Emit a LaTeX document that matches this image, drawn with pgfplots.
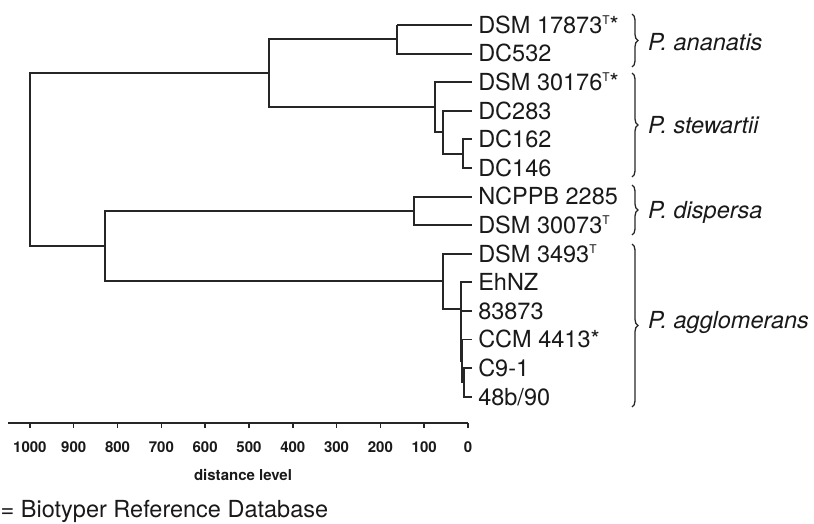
\documentclass[border=0pt]{standalone}
\usepackage{pgfplots}
\pgfplotsset{compat=1.18}
\usepackage{fontspec}
\setmainfont{TeX Gyre Heros}
\usetikzlibrary{decorations.pathreplacing}
\tikzset{leaf/.style={anchor=base west, inner sep=0pt, yshift=-8.4pt, font=\fontsize{23.5}{28}\selectfont, text=black!90}}
\newcommand{\supT}{\raisebox{8.6pt}{\fontsize{12}{12}\selectfont T}}
\begin{document}
\begin{tikzpicture}[x=1pt,y=1pt]
\path[use as bounding box] (0,0) rectangle (814,-523);
\begin{axis}[
  at={(8pt,-423pt)}, anchor=south west,
  scale only axis, width=460pt, height=412.3pt,
  xmin=-1050, xmax=0, ymin=-14.92, ymax=-0.5,
  clip=false,
  axis x line=bottom, axis y line=none,
  axis line style={-, line width=1.9pt, black!85},
  xtick={-1000,-900,-800,-700,-600,-500,-400,-300,-200,-100,0},
  xticklabels={1000,900,800,700,600,500,400,300,200,100,0},
  tick align=outside, major tick length=5pt,
  tick style={line width=1.5pt, black!85},
  xticklabel style={font=\fontsize{15}{18}\selectfont\bfseries, anchor=base, yshift=-24pt, text=black!90},
  /pgf/number format/assume math mode=true,
  dend/.style={black!85, solid, line width=1.9pt, line join=miter, mark=none},
]
% dendrogram (x = -distance, y = -leaf index)
\addplot[dend, line width=1.1pt] coordinates {(8,-1) (-162,-1)};
\addplot[dend] coordinates {(-162,-1) (-162,-2) (8,-2)};
\addplot[dend] coordinates {(8,-5) (-12,-5) (-12,-6) (8,-6)};
\addplot[dend] coordinates {(8,-4) (-58,-4) (-58,-5.5) (-12,-5.5)};
\addplot[dend] coordinates {(8,-3) (-75,-3) (-75,-4.75) (-58,-4.75)};
\addplot[dend] coordinates {(-162,-1.5) (-454,-1.5) (-454,-3.875) (-75,-3.875)};
\addplot[dend] coordinates {(8,-7) (-123,-7) (-123,-8) (8,-8)};
\addplot[dend] coordinates {(8,-13) (-9,-13) (-9,-14) (8,-14)};
\addplot[dend] coordinates {(8,-12) (-13,-12) (-13,-13.5) (-9,-13.5)};
\addplot[dend] coordinates {(8,-11) (-15,-11) (-15,-12.75) (-13,-12.75)};
\addplot[dend] coordinates {(8,-10) (-17,-10) (-17,-11.875) (-15,-11.875)};
\addplot[dend] coordinates {(8,-9) (-57,-9) (-57,-10.9375) (-17,-10.9375)};
\addplot[dend] coordinates {(-123,-7.5) (-829,-7.5) (-829,-9.96875) (-57,-9.96875)};
\addplot[dend] coordinates {(-454,-2.6875) (-1000,-2.6875) (-1000,-8.734375) (-829,-8.734375)};
% leaf labels
\node[leaf] at (axis cs:23,-1) {DSM 17873\supT*};
\node[leaf] at (axis cs:23,-2) {DC532};
\node[leaf] at (axis cs:23,-3) {DSM 30176\supT*};
\node[leaf] at (axis cs:23,-4) {DC283};
\node[leaf] at (axis cs:23,-5) {DC162};
\node[leaf] at (axis cs:23,-6) {DC146};
\node[leaf] at (axis cs:23,-7) {NCPPB 2285};
\node[leaf] at (axis cs:23,-8) {DSM 30073\supT};
\node[leaf] at (axis cs:23,-9) {DSM 3493\supT};
\node[leaf] at (axis cs:23,-10) {EhNZ};
\node[leaf] at (axis cs:23,-11) {83873};
\node[leaf] at (axis cs:23,-12) {CCM 4413*};
\node[leaf] at (axis cs:23,-13) {C9-1};
\node[leaf] at (axis cs:23,-14) {48b/90};
\end{axis}
% braces
\begin{scope}[black!85, line width=1.3pt, decoration={brace, amplitude=6pt}]
\draw[decorate] (632,-14) -- (632,-67);
\draw[decorate] (632,-73) -- (632,-177);
\draw[decorate] (632,-185) -- (632,-235);
\draw[decorate] (632,-244) -- (632,-407);
\end{scope}
\begin{scope}[every node/.style={anchor=base west, inner sep=0pt, font=\fontsize{23.5}{28}\selectfont\itshape, text=black!90}]
\node at (648,-50) {P. ananatis};
\node at (648,-133) {P. stewartii};
\node at (648,-218) {P. dispersa};
\node at (648,-328) {P. agglomerans};
\end{scope}
\node[anchor=base, inner sep=0pt, font=\fontsize{15}{18}\selectfont\bfseries, text=black!90] at (243,-480.5) {distance level};
\node[anchor=base west, inner sep=0pt, font=\fontsize{23.5}{28}\selectfont, text=black!90] at (0.5,-517) {= Biotyper Reference Database};
\end{tikzpicture}
\end{document}
